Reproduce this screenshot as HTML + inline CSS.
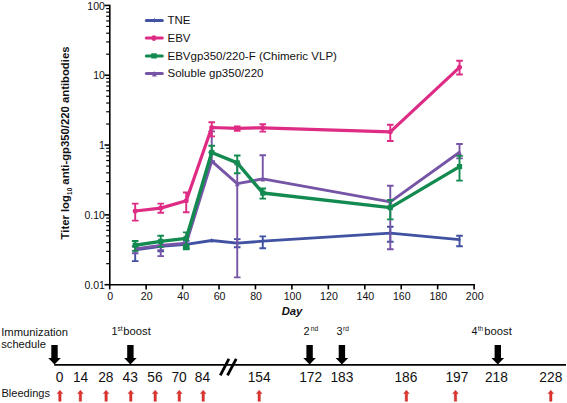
<!DOCTYPE html>
<html><head><meta charset="utf-8"><style>html,body{margin:0;padding:0;background:#fff;width:567px;height:403px;overflow:hidden}svg{display:block}svg text{font-family:"Liberation Sans",sans-serif}</style></head>
<body>
<svg width="567" height="403" viewBox="0 0 567 403">
<rect width="567" height="403" fill="#fff"/>
<g stroke="#000" stroke-width="1.6" fill="none">
<path d="M109.8,4.7 V285.5"/>
<path d="M109.0,284.7 H475"/>
<path d="M104.5,5.42 H109.8"/>
<path d="M106.2,54.22 H109.8" stroke-width="1.2"/>
<path d="M106.2,41.93 H109.8" stroke-width="1.2"/>
<path d="M106.2,33.20 H109.8" stroke-width="1.2"/>
<path d="M106.2,26.44 H109.8" stroke-width="1.2"/>
<path d="M106.2,20.91 H109.8" stroke-width="1.2"/>
<path d="M106.2,16.24 H109.8" stroke-width="1.2"/>
<path d="M106.2,12.19 H109.8" stroke-width="1.2"/>
<path d="M106.2,8.61 H109.8" stroke-width="1.2"/>
<path d="M104.5,75.24 H109.8"/>
<path d="M106.2,124.04 H109.8" stroke-width="1.2"/>
<path d="M106.2,111.75 H109.8" stroke-width="1.2"/>
<path d="M106.2,103.02 H109.8" stroke-width="1.2"/>
<path d="M106.2,96.26 H109.8" stroke-width="1.2"/>
<path d="M106.2,90.73 H109.8" stroke-width="1.2"/>
<path d="M106.2,86.06 H109.8" stroke-width="1.2"/>
<path d="M106.2,82.01 H109.8" stroke-width="1.2"/>
<path d="M106.2,78.43 H109.8" stroke-width="1.2"/>
<path d="M104.5,145.06 H109.8"/>
<path d="M106.2,193.86 H109.8" stroke-width="1.2"/>
<path d="M106.2,181.57 H109.8" stroke-width="1.2"/>
<path d="M106.2,172.84 H109.8" stroke-width="1.2"/>
<path d="M106.2,166.08 H109.8" stroke-width="1.2"/>
<path d="M106.2,160.55 H109.8" stroke-width="1.2"/>
<path d="M106.2,155.88 H109.8" stroke-width="1.2"/>
<path d="M106.2,151.83 H109.8" stroke-width="1.2"/>
<path d="M106.2,148.25 H109.8" stroke-width="1.2"/>
<path d="M104.5,214.88 H109.8"/>
<path d="M106.2,263.68 H109.8" stroke-width="1.2"/>
<path d="M106.2,251.39 H109.8" stroke-width="1.2"/>
<path d="M106.2,242.66 H109.8" stroke-width="1.2"/>
<path d="M106.2,235.90 H109.8" stroke-width="1.2"/>
<path d="M106.2,230.37 H109.8" stroke-width="1.2"/>
<path d="M106.2,225.70 H109.8" stroke-width="1.2"/>
<path d="M106.2,221.65 H109.8" stroke-width="1.2"/>
<path d="M106.2,218.07 H109.8" stroke-width="1.2"/>
<path d="M104.5,284.70 H109.8"/>
<path d="M109.70,284.7 V289.4"/>
<path d="M146.14,284.7 V289.4"/>
<path d="M182.58,284.7 V289.4"/>
<path d="M219.02,284.7 V289.4"/>
<path d="M255.46,284.7 V289.4"/>
<path d="M291.90,284.7 V289.4"/>
<path d="M328.34,284.7 V289.4"/>
<path d="M364.78,284.7 V289.4"/>
<path d="M401.22,284.7 V289.4"/>
<path d="M437.66,284.7 V289.4"/>
<path d="M474.10,284.7 V289.4"/>
</g>
<g font-family="Liberation Sans, sans-serif" font-size="10.5" fill="#111" text-anchor="end">
<text x="104.9" y="9.62">100</text>
<text x="104.9" y="79.44">10</text>
<text x="104.9" y="149.26">1</text>
<text x="104.9" y="219.08">0.10</text>
<text x="104.9" y="288.90">0.01</text>
</g>
<g font-family="Liberation Sans, sans-serif" font-size="10.6" fill="#111" text-anchor="middle">
<text x="110.30" y="299.9">0</text>
<text x="146.74" y="299.9">20</text>
<text x="183.18" y="299.9">40</text>
<text x="219.62" y="299.9">60</text>
<text x="256.06" y="299.9">80</text>
<text x="292.50" y="299.9">100</text>
<text x="328.94" y="299.9">120</text>
<text x="365.38" y="299.9">140</text>
<text x="401.82" y="299.9">160</text>
<text x="438.26" y="299.9">180</text>
<text x="474.70" y="299.9">200</text>
</g>
<text font-family="Liberation Sans, sans-serif" font-size="11.3" font-weight="bold" font-style="italic" x="292" y="314.6" text-anchor="middle" fill="#111">Day</text>
<text font-family="Liberation Sans, sans-serif" font-size="11.3" font-weight="bold" fill="#111" transform="translate(69.1,143.0) rotate(-90)" text-anchor="middle">Titer log<tspan font-size="6.4" dy="2.4" dx="0.2">10</tspan><tspan dy="-2.4"> anti-gp350/220 antibodies</tspan></text>
<g stroke="#4152a2" fill="none">
<path d="M135.21,246.4 V261.09999999999997 M131.91,246.4 h6.6 M131.91,261.09999999999997 h6.6" stroke-width="1.9"/>
<path d="M160.72,241.4 V251.4 M157.42,241.4 h6.6 M157.42,251.4 h6.6" stroke-width="1.9"/>
<path d="M186.22,240.9 V248.4 M182.92,240.9 h6.6 M182.92,248.4 h6.6" stroke-width="1.9"/>
<path d="M237.24,239.1 V247.3 M233.94,239.1 h6.6 M233.94,247.3 h6.6" stroke-width="1.9"/>
<path d="M262.75,236.4 V248.20000000000002 M259.45,236.4 h6.6 M259.45,248.20000000000002 h6.6" stroke-width="1.9"/>
<path d="M390.29,226.8 V241.70000000000002 M386.99,226.8 h6.6 M386.99,241.70000000000002 h6.6" stroke-width="1.9"/>
<path d="M459.52,235.8 V246.20000000000002 M456.22,235.8 h6.6 M456.22,246.20000000000002 h6.6" stroke-width="1.9"/>
<polyline points="135.21,249.90 160.72,246.40 186.22,244.40 211.73,240.50 237.24,243.20 262.75,241.20 390.29,233.20 459.52,239.70" stroke-width="2.8" stroke-linejoin="round"/>
</g>
<g fill="#4152a2">
<path d="M135.21,247.30 L136.41,249.90 L135.21,252.50 L134.01,249.90 z"/>
<path d="M160.72,243.80 L161.92,246.40 L160.72,249.00 L159.52,246.40 z"/>
<path d="M186.22,241.80 L187.42,244.40 L186.22,247.00 L185.02,244.40 z"/>
<path d="M211.73,237.90 L212.93,240.50 L211.73,243.10 L210.53,240.50 z"/>
<path d="M237.24,240.60 L238.44,243.20 L237.24,245.80 L236.04,243.20 z"/>
<path d="M262.75,238.60 L263.95,241.20 L262.75,243.80 L261.55,241.20 z"/>
<path d="M390.29,230.60 L391.49,233.20 L390.29,235.80 L389.09,233.20 z"/>
<path d="M459.52,237.10 L460.72,239.70 L459.52,242.30 L458.32,239.70 z"/>
</g>
<g stroke="#7655a6" fill="none">
<path d="M135.21,246.4 V253.3 M131.91,246.4 h6.6 M131.91,253.3 h6.6" stroke-width="1.9"/>
<path d="M160.72,250.1 V256.09999999999997 M157.42,250.1 h6.6 M157.42,256.09999999999997 h6.6" stroke-width="1.9"/>
<path d="M211.73,131.4 V161.1 M208.43,131.4 h6.6 M208.43,161.1 h6.6" stroke-width="1.9"/>
<path d="M237.24,163.4 V277.4 M233.94,163.4 h6.6 M233.94,277.4 h6.6" stroke-width="1.9"/>
<path d="M262.75,155.20000000000002 V178.9 M259.45,155.20000000000002 h6.6 M259.45,178.9 h6.6" stroke-width="1.9"/>
<path d="M390.29,185.70000000000002 V249.20000000000002 M386.99,185.70000000000002 h6.6 M386.99,249.20000000000002 h6.6" stroke-width="1.9"/>
<path d="M459.52,144.0 V158.4 M456.22,144.0 h6.6 M456.22,158.4 h6.6" stroke-width="1.9"/>
<polyline points="135.21,248.90 160.72,245.40 186.22,243.20 211.73,161.10 237.24,183.70 262.75,178.90 390.29,201.90 459.52,152.30" stroke-width="2.9" stroke-linejoin="round"/>
</g>
<g fill="#7655a6">
<path d="M135.21,246.50 L137.51,251.50 L132.91,251.50 z"/>
<path d="M160.72,243.00 L163.02,248.00 L158.42,248.00 z"/>
<path d="M186.22,240.80 L188.52,245.80 L183.92,245.80 z"/>
<path d="M211.73,158.70 L214.03,163.70 L209.43,163.70 z"/>
<path d="M237.24,181.30 L239.54,186.30 L234.94,186.30 z"/>
<path d="M262.75,176.50 L265.05,181.50 L260.45,181.50 z"/>
<path d="M390.29,199.50 L392.59,204.50 L387.99,204.50 z"/>
<path d="M459.52,149.90 L461.82,154.90 L457.22,154.90 z"/>
</g>
<g stroke="#138a4f" fill="none">
<path d="M135.21,241.0 V250.9 M131.91,241.0 h6.6 M131.91,250.9 h6.6" stroke-width="1.9"/>
<path d="M160.72,235.8 V246.9 M157.42,235.8 h6.6 M157.42,246.9 h6.6" stroke-width="1.9"/>
<path d="M186.22,232.4 V249.4 M182.92,232.4 h6.6 M182.92,249.4 h6.6" stroke-width="1.9"/>
<path d="M211.73,145.70000000000002 V152.5 M208.43,145.70000000000002 h6.6 M208.43,152.5 h6.6" stroke-width="1.9"/>
<path d="M237.24,155.5 V173.3 M233.94,155.5 h6.6 M233.94,173.3 h6.6" stroke-width="1.9"/>
<path d="M262.75,188.5 V198.6 M259.45,188.5 h6.6 M259.45,198.6 h6.6" stroke-width="1.9"/>
<path d="M390.29,200.0 V219.4 M386.99,200.0 h6.6 M386.99,219.4 h6.6" stroke-width="1.9"/>
<path d="M459.52,155.9 V180.6 M456.22,155.9 h6.6 M456.22,180.6 h6.6" stroke-width="1.9"/>
<polyline points="135.21,245.20 160.72,241.40 186.22,238.40 211.73,152.50 237.24,162.90 262.75,193.00 390.29,207.60 459.52,166.60" stroke-width="3.4" stroke-linejoin="round"/>
</g>
<g fill="#138a4f">
<rect x="132.61" y="242.60" width="5.2" height="5.2"/>
<rect x="158.12" y="238.80" width="5.2" height="5.2"/>
<rect x="183.62" y="235.80" width="5.2" height="5.2"/>
<rect x="209.13" y="149.90" width="5.2" height="5.2"/>
<rect x="234.64" y="160.30" width="5.2" height="5.2"/>
<rect x="260.15" y="190.40" width="5.2" height="5.2"/>
<rect x="387.69" y="205.00" width="5.2" height="5.2"/>
<rect x="456.92" y="164.00" width="5.2" height="5.2"/>
<rect x="182.92" y="244" width="6.6" height="5.2"/>
</g>
<g stroke="#de2c85" fill="none">
<path d="M135.21,203.6 V220.6 M131.91,203.6 h6.6 M131.91,220.6 h6.6" stroke-width="1.9"/>
<path d="M160.72,203.6 V212.8 M157.42,203.6 h6.6 M157.42,212.8 h6.6" stroke-width="1.9"/>
<path d="M186.22,192.5 V212.20000000000002 M182.92,192.5 h6.6 M182.92,212.20000000000002 h6.6" stroke-width="1.9"/>
<path d="M211.73,122.2 V136.4 M208.43,122.2 h6.6 M208.43,136.4 h6.6" stroke-width="1.9"/>
<path d="M237.24,126.4 V130.9 M233.94,126.4 h6.6 M233.94,130.9 h6.6" stroke-width="1.9"/>
<path d="M262.75,124.2 V131.6 M259.45,124.2 h6.6 M259.45,131.6 h6.6" stroke-width="1.9"/>
<path d="M390.29,124.80000000000001 V141.0 M386.99,124.80000000000001 h6.6 M386.99,141.0 h6.6" stroke-width="1.9"/>
<path d="M459.52,60.8 V74.5 M456.22,60.8 h6.6 M456.22,74.5 h6.6" stroke-width="1.9"/>
<polyline points="135.21,211.00 160.72,208.10 186.22,200.70 211.73,127.50 237.24,128.30 262.75,127.80 390.29,131.80 459.52,67.30" stroke-width="3.2" stroke-linejoin="round"/>
</g>
<g fill="#de2c85">
<circle cx="135.21" cy="211.00" r="2.5"/>
<circle cx="160.72" cy="208.10" r="2.5"/>
<circle cx="186.22" cy="200.70" r="2.5"/>
<circle cx="211.73" cy="127.50" r="2.5"/>
<circle cx="237.24" cy="128.30" r="2.5"/>
<circle cx="262.75" cy="127.80" r="2.5"/>
<circle cx="390.29" cy="131.80" r="2.5"/>
<circle cx="459.52" cy="67.30" r="2.5"/>
</g>
<path d="M146.3,20.45 H162.3" stroke="#4152a2" stroke-width="3" stroke-linecap="round"/>
<text font-family="Liberation Sans, sans-serif" font-size="11.5" x="167.5" y="24.45" fill="#111">TNE</text>
<path d="M146.3,38.1 H162.3" stroke="#de2c85" stroke-width="3" stroke-linecap="round"/>
<text font-family="Liberation Sans, sans-serif" font-size="11.5" x="167.5" y="42.10" fill="#111">EBV</text>
<path d="M146.3,55.9 H162.3" stroke="#138a4f" stroke-width="3" stroke-linecap="round"/>
<text font-family="Liberation Sans, sans-serif" font-size="11.5" x="167.5" y="59.90" fill="#111">EBVgp350/220-F (Chimeric VLP)</text>
<path d="M146.3,73.4 H162.3" stroke="#7655a6" stroke-width="3" stroke-linecap="round"/>
<text font-family="Liberation Sans, sans-serif" font-size="11.5" x="167.5" y="77.40" fill="#111">Soluble gp350/220</text>
<path d="M154.4,17.8 L155.5,20.45 L154.4,23 L153.3,20.45 z" fill="#4152a2"/>
<ellipse cx="153.9" cy="38.1" rx="2.4" ry="2.8" fill="#de2c85"/>
<rect x="151.2" y="53.3" width="5.6" height="5.2" fill="#138a4f"/>
<path d="M154.4,71 L156.8,76.6 L152,76.6 z" fill="#7655a6"/>
<g font-family="Liberation Sans, sans-serif" font-size="10.7" fill="#111">
<text transform="translate(1.2,335.6) scale(1.05,1)">Immunization</text>
<text transform="translate(1.2,348.3) scale(1.045,1)">schedule</text>
<text transform="translate(1.4,397.1) scale(1.035,1)">Bleedings</text>
</g>
<path d="M54.2,364.9 H566" stroke="#000" stroke-width="1.8"/>
<path d="M51.30,344.9 h6.4 v13 h3.1 L54.50,364.4 L48.20,357.9 h3.1 z" fill="#000"/>
<path d="M127.20,344.9 h6.4 v13 h3.1 L130.40,364.4 L124.10,357.9 h3.1 z" fill="#000"/>
<path d="M306.40,344.9 h6.4 v13 h3.1 L309.60,364.4 L303.30,357.9 h3.1 z" fill="#000"/>
<path d="M338.70,344.9 h6.4 v13 h3.1 L341.90,364.4 L335.60,357.9 h3.1 z" fill="#000"/>
<path d="M494.60,344.9 h6.4 v13 h3.1 L497.80,364.4 L491.50,357.9 h3.1 z" fill="#000"/>
<path d="M220.3,375.3 L228.9,358.9 M227.5,375.3 L236.2,358.9" stroke="#000" stroke-width="2.8"/>
<g font-family="Liberation Sans, sans-serif" font-size="10.7" fill="#111">
<text transform="translate(111.6,334.9) scale(1.02,1)" font-size="10.7">1</text>
<text transform="translate(117.5,331.0) scale(1.0,1)" font-size="6.5">st</text>
<text transform="translate(123.3,334.9) scale(1.05,1)" font-size="10.7">boost</text>
<text transform="translate(303.6,334.9) scale(1.02,1)" font-size="10.7">2</text>
<text transform="translate(310.7,331.0) scale(1.0,1)" font-size="6.7">nd</text>
<text transform="translate(336.6,334.9) scale(1.02,1)" font-size="10.7">3</text>
<text transform="translate(342.9,331.0) scale(1.0,1)" font-size="6.7">rd</text>
<text transform="translate(471.6,334.9) scale(1.0,1)" font-size="10.7">4</text>
<text transform="translate(477.8,331.0) scale(1.0,1)" font-size="6.5">th</text>
<text transform="translate(484.3,334.9) scale(1.05,1)" font-size="10.7">boost</text>
</g>
<g font-family="Liberation Sans, sans-serif" font-size="13.1" fill="#111" text-anchor="middle">
<text transform="translate(59.7,382.4) scale(1.05,1.05)">0</text>
<text transform="translate(80.6,382.4) scale(1.05,1.05)">14</text>
<text transform="translate(105.8,382.4) scale(1.05,1.05)">28</text>
<text transform="translate(130.2,382.4) scale(1.05,1.05)">43</text>
<text transform="translate(154.9,382.4) scale(1.05,1.05)">56</text>
<text transform="translate(179.1,382.4) scale(1.05,1.05)">70</text>
<text transform="translate(202.5,382.4) scale(1.05,1.05)">84</text>
<text transform="translate(259.1,382.4) scale(1.05,1.05)">154</text>
<text transform="translate(310.6,382.4) scale(1.05,1.05)">172</text>
<text transform="translate(341.9,382.4) scale(1.05,1.05)">183</text>
<text transform="translate(405.9,382.4) scale(1.05,1.05)">186</text>
<text transform="translate(456.9,382.4) scale(1.05,1.05)">197</text>
<text transform="translate(496.4,382.4) scale(1.05,1.05)">218</text>
<text transform="translate(550.8,382.4) scale(1.05,1.05)">228</text>
</g>
<path d="M58.70,401.3 V393.6 h-1.6 L59.90,390.2 L62.70,393.6 h-1.6 V401.3 z" fill="#e2322c" stroke="#b52323" stroke-width="0.4"/>
<path d="M79.20,401.3 V393.6 h-1.6 L80.40,390.2 L83.20,393.6 h-1.6 V401.3 z" fill="#e2322c" stroke="#b52323" stroke-width="0.4"/>
<path d="M104.90,401.3 V393.6 h-1.6 L106.10,390.2 L108.90,393.6 h-1.6 V401.3 z" fill="#e2322c" stroke="#b52323" stroke-width="0.4"/>
<path d="M129.60,401.3 V393.6 h-1.6 L130.80,390.2 L133.60,393.6 h-1.6 V401.3 z" fill="#e2322c" stroke="#b52323" stroke-width="0.4"/>
<path d="M154.00,401.3 V393.6 h-1.6 L155.20,390.2 L158.00,393.6 h-1.6 V401.3 z" fill="#e2322c" stroke="#b52323" stroke-width="0.4"/>
<path d="M178.10,401.3 V393.6 h-1.6 L179.30,390.2 L182.10,393.6 h-1.6 V401.3 z" fill="#e2322c" stroke="#b52323" stroke-width="0.4"/>
<path d="M202.00,401.3 V393.6 h-1.6 L203.20,390.2 L206.00,393.6 h-1.6 V401.3 z" fill="#e2322c" stroke="#b52323" stroke-width="0.4"/>
<path d="M258.00,401.3 V393.6 h-1.6 L259.20,390.2 L262.00,393.6 h-1.6 V401.3 z" fill="#e2322c" stroke="#b52323" stroke-width="0.4"/>
<path d="M405.20,401.3 V393.6 h-1.6 L406.40,390.2 L409.20,393.6 h-1.6 V401.3 z" fill="#e2322c" stroke="#b52323" stroke-width="0.4"/>
<path d="M454.30,401.3 V393.6 h-1.6 L455.50,390.2 L458.30,393.6 h-1.6 V401.3 z" fill="#e2322c" stroke="#b52323" stroke-width="0.4"/>
<path d="M549.60,401.3 V393.6 h-1.6 L550.80,390.2 L553.60,393.6 h-1.6 V401.3 z" fill="#e2322c" stroke="#b52323" stroke-width="0.4"/>
</svg>
</body></html>
